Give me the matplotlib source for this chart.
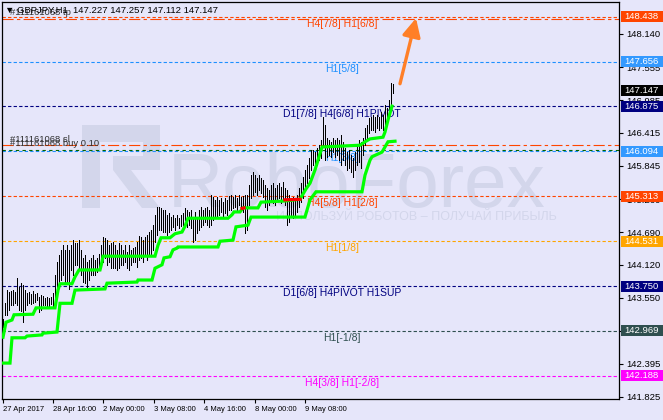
import numpy as np
import matplotlib
matplotlib.use("Agg")
import matplotlib.pyplot as plt
from matplotlib import transforms
from matplotlib.patches import Rectangle, Polygon

# ---- data (GBPJPY H1) ----
highs = [
    143.18, 143.45, 143.68, 143.65, 143.66, 143.68, 143.65, 143.89, 143.73, 143.80,
    143.77, 143.68, 143.63, 143.65, 143.61, 143.66, 143.61, 143.63, 143.56, 143.59,
    143.58, 143.54, 143.56, 143.54, 143.56, 143.63, 143.94, 144.17, 144.29, 144.38,
    144.46, 144.38, 144.46, 144.38, 144.46, 144.55, 144.50, 144.50, 144.55, 144.38,
    144.24, 144.29, 144.17, 144.20, 144.24, 144.29, 144.20, 144.24, 144.31, 144.46,
    144.60, 144.59, 144.55, 144.46, 144.50, 144.52, 144.46, 144.38, 144.50, 144.46,
    144.38, 144.46, 144.34, 144.46, 144.38, 144.41, 144.43, 144.52, 144.62, 144.60,
    144.55, 144.60, 144.64, 144.69, 144.73, 144.81, 144.99, 145.13, 145.13, 145.11,
    145.07, 145.07, 144.99, 145.02, 144.95, 144.99, 144.93, 144.99, 144.93, 144.99,
    145.02, 145.11, 145.07, 145.04, 145.07, 144.93, 145.04, 144.93, 145.07, 145.13,
    145.07, 145.11, 145.13, 145.07, 145.33, 145.30, 145.25, 145.30, 145.25, 145.28,
    145.21, 145.28, 145.25, 145.32, 145.33, 145.30, 145.33, 145.28, 145.33, 145.30,
    145.32, 145.33, 145.33, 145.51, 145.68, 145.73, 145.68, 145.63, 145.68, 145.63,
    145.59, 145.51, 145.46, 145.42, 145.51, 145.54, 145.46, 145.51, 145.54, 145.47,
    145.56, 145.46, 145.42, 145.33, 145.28, 145.30, 145.25, 145.33, 145.46, 145.54,
    145.65, 145.77, 145.86, 145.98, 146.12, 146.12, 146.08, 146.15, 146.20, 146.29,
    146.69, 146.55, 146.33, 146.29, 146.26, 146.33, 146.29, 146.33, 146.29, 146.38,
    146.26, 146.15, 146.08, 146.12, 146.03, 145.98, 146.08, 146.20, 146.29, 146.26,
    146.33, 146.50, 146.55, 146.67, 146.69, 146.73, 146.69, 146.73, 146.69, 146.78,
    146.73, 146.90, 146.85, 146.99, 147.28, 147.257]
lows = [
    143.04, 143.24, 143.24, 143.33, 143.42, 143.42, 143.45, 143.42, 143.33, 143.32,
    143.13, 143.33, 143.42, 143.45, 143.44, 143.45, 143.47, 143.51, 143.30, 143.33,
    143.42, 143.42, 143.40, 143.40, 143.44, 143.40, 143.51, 143.59, 143.77, 143.86,
    143.94, 143.82, 143.80, 143.70, 144.03, 143.94, 144.12, 144.12, 144.06, 143.94,
    143.82, 143.80, 143.73, 143.86, 143.94, 143.94, 143.94, 143.99, 144.06, 144.12,
    144.17, 144.24, 144.12, 144.17, 144.06, 144.06, 144.06, 144.03, 144.06, 144.12,
    144.12, 144.17, 144.06, 144.03, 144.12, 144.17, 144.17, 144.08, 144.20, 144.24,
    144.17, 144.29, 144.20, 144.29, 144.29, 144.38, 144.52, 144.64, 144.73, 144.73,
    144.69, 144.69, 144.64, 144.69, 144.73, 144.78, 144.73, 144.81, 144.76, 144.79,
    144.81, 144.90, 144.78, 144.81, 144.76, 144.52, 144.55, 144.67, 144.73, 144.78,
    144.81, 144.86, 144.81, 144.78, 144.81, 144.90, 144.93, 144.95, 144.99, 145.04,
    144.95, 145.02, 144.99, 145.07, 145.07, 145.11, 145.13, 145.04, 145.16, 145.07,
    145.04, 144.67, 144.73, 145.16, 145.28, 145.33, 145.39, 145.33, 145.42, 145.37,
    145.30, 145.13, 145.07, 145.16, 145.25, 145.20, 145.16, 145.25, 145.28, 145.20,
    145.25, 145.16, 144.81, 144.86, 144.99, 144.93, 144.99, 145.04, 145.13, 145.21,
    145.28, 145.42, 145.54, 145.63, 145.77, 145.86, 145.82, 145.86, 145.94, 145.98,
    146.20, 145.94, 146.00, 146.03, 146.00, 146.08, 146.00, 146.03, 145.94, 145.86,
    145.94, 145.86, 145.77, 145.80, 145.73, 145.65, 145.77, 145.86, 145.91, 145.80,
    146.03, 146.20, 146.29, 146.41, 146.46, 146.46, 146.43, 146.50, 146.46, 146.50,
    146.46, 146.55, 146.60, 146.67, 146.85, 147.112]

# trailing lines (bar index, price)
upper_x = [0, 1.5, 4.5, 5.5, 15, 16.5, 26, 27.5, 28.5, 34.5, 36, 38, 48.5, 49.5, 50, 76,
           77.5, 79, 83.5, 86, 89.5, 91, 92.5, 112.5, 114.5, 115.5, 118.5, 120, 127.5,
           129, 141, 148.5, 150, 151.5, 153.5, 156, 157.5, 159.5, 178.5, 181, 183.5,
           190, 191, 192.5, 193.5, 194.5]
upper_y = [142.86, 143.12, 143.16, 143.25, 143.26, 143.37, 143.37, 143.68, 143.79, 143.79,
           143.91, 144.03, 144.03, 144.17, 144.27, 144.27, 144.46, 144.59, 144.59, 144.66,
           144.69, 144.79, 144.93, 144.93, 144.99, 145.04, 145.04, 145.11, 145.11, 145.21,
           145.23, 145.26, 145.35, 145.44, 145.54, 145.77, 145.94, 146.17, 146.20, 146.26,
           146.31, 146.34, 146.43, 146.64, 146.76, 146.88]
upper_red_x = [141, 148.5]
upper_red_y = [145.25, 145.26]
lower_x = [0, 3.5, 4.5, 11, 12, 19.5, 20, 27, 28.5, 34.5, 36, 51, 52, 67, 67.5, 74.5, 76,
           79.5, 80.5, 83.5, 85, 87, 87.5, 107.5, 108.5, 115, 116.5, 122.5, 124, 151,
           153.5, 156.5, 179.5, 181, 183.5, 184.5, 189.5, 192.5, 196]
lower_y = [142.41, 142.41, 142.85, 142.85, 142.88, 142.90, 142.93, 142.95, 143.45, 143.45,
           143.68, 143.70, 143.80, 143.82, 143.855, 143.855, 144.06, 144.12, 144.24, 144.26,
           144.38, 144.41, 144.43, 144.43, 144.53, 144.55, 144.78, 144.81, 144.95, 144.95,
           145.25, 145.39, 145.39, 145.68, 145.94, 146.00, 146.08, 146.26, 146.27]

levels = [148.438, 147.656, 146.875, 146.094, 145.313, 144.531, 143.750, 142.969, 142.188]
level_names = ["H4[7/8] H1[6/8]", "H1[5/8]", "D1[7/8] H4[6/8] H1PIVOT", "H1[3/8]",
               "H4[5/8] H1[2/8]", "H1[1/8]", "D1[6/8] H4PIVOT H1SUP", "H1[-1/8]",
               "H4[3/8] H1[-2/8]"]
level_colors = ["#FF4500", "#1E90FF", "#000080", "#1E90FF", "#FF4500", "#FFA500",
                "#000080", "#2F4F4F", "#FF00FF"]
box_colors = ["#FF4500", "#3399FF", "#000080", "#3399FF", "#FF4500", "#FFA500",
              "#000080", "#2F4F4F", "#FF00FF"]

tp_price, sl_price, buy_price = 148.40, 146.20, 146.12
last_price = 147.147
arrow_from = (198.5, 147.27)
arrow_to = (206.5, 148.41)

yticks = [141.825, 142.395, 142.965, 143.550, 144.120, 144.690, 145.260, 145.845,
          146.415, 146.985, 147.555, 148.140]
xtick_pos = [0, 25, 50, 75.5, 100.5, 126, 151]
xtick_labels = ["27 Apr 2017", "28 Apr 16:00", "2 May 00:00", "3 May 08:00",
                "4 May 16:00", "8 May 00:00", "9 May 08:00"]

REG = ["Liberation Sans", "DejaVu Sans"]
BG = "#E6E6FA"
WM = "#D3D6EB"

fig = plt.figure(figsize=(6.63, 4.2), dpi=100, facecolor=BG)
ax = fig.add_axes([2 / 663, 21 / 420, 617 / 663, 397 / 420], facecolor=BG)
ax.set_xlim(-0.5, 308)
ax.set_ylim(141.785, 148.692)

def fpx(x, y):
    return (x / 663, 1 - y / 420)

# watermark logo + text
wm_rects = [(82, 125, 18, 83), (82, 125, 78, 17), (143, 125, 17, 45), (113, 156, 47, 14)]
for x0, y0, w, h in wm_rects:
    fx, fy = fpx(x0, y0 + h)
    ax.add_patch(Rectangle((fx, fy), w / 663, h / 420, transform=fig.transFigure,
                           color=WM, zorder=0, lw=0))
ax.add_patch(Polygon([fpx(113, 170), fpx(131, 170), fpx(160, 208), fpx(142, 208)],
                     closed=True, transform=fig.transFigure, color=WM, zorder=0, lw=0))
ax.text(*fpx(168, 207), "RoboForex", transform=fig.transFigure, fontsize=55,
        family=REG, color=WM, ha="left", va="baseline", zorder=0)
ax.text(*fpx(557, 217), "ИСПОЛЬЗУЙ РОБОТОВ – ПОЛУЧАЙ ПРИБЫЛЬ", transform=fig.transFigure,
        fontsize=9, family=REG, color=WM, ha="right", va="center", zorder=0)

# level lines + labels
for p, name, c in zip(levels, level_names, level_colors):
    ax.axhline(p, color=c, lw=0.8, ls=(0, (3, 2)), zorder=1)
    ax.annotate(name, (169.5, p), xytext=(0, -1.5), textcoords="offset points",
                ha="center", va="top", fontsize=7.5, family=REG, color=c, zorder=1)

# order lines
ax.axhline(tp_price, color="#FF4500", lw=0.8, ls=(0, (10, 3, 3, 3)), zorder=1)
ax.axhline(sl_price, color="#FF4500", lw=0.8, ls=(0, (10, 3, 3, 3)), zorder=1)
ax.axhline(buy_price, color="#006400", lw=0.8, ls=(0, (3, 3)), zorder=1)
ax.annotate("#111161068 tp", (3.5, tp_price), xytext=(0, 1), textcoords="offset points",
            fontsize=6.8, family=REG, color="#303030", va="bottom", zorder=2)
ax.annotate("#111161068 sl", (3.5, sl_price), xytext=(0, 1), textcoords="offset points",
            fontsize=6.8, family=REG, color="#303030", va="bottom", zorder=2)
ax.annotate("#111161068 buy 0.10", (3.5, buy_price), xytext=(0, 1), textcoords="offset points",
            fontsize=6.8, family=REG, color="#303030", va="bottom", zorder=2)

# bars
idx = np.arange(len(highs))
ax.vlines(idx, lows, highs, color="black", lw=0.72, zorder=3, antialiased=False)

# trailing lines
ax.plot(lower_x, lower_y, color="#00FF00", lw=2.3, zorder=4, solid_joinstyle="miter")
ax.plot(upper_x, upper_y, color="#00FF00", lw=2.3, zorder=4, solid_joinstyle="miter")
ax.plot(upper_red_x, upper_red_y, color="#FF0000", lw=2.3, zorder=5)
ax.plot([119.5, 120.5], [145.10, 145.11], color="#FF0000", lw=2.3, zorder=5)

# arrow
ax.annotate("", xy=arrow_to, xytext=arrow_from,
            arrowprops=dict(arrowstyle="-|>,head_length=1.1,head_width=0.55",
                            color="#FF7F27", lw=2.4, shrinkA=0, shrinkB=0), zorder=6)

# title
ax.text(3 / 617, 1 - 8 / 397, "▼ GBPJPY,H1  147.227 147.257 147.112 147.147",
        transform=ax.transAxes, fontsize=6.8, family=REG, color="black", va="center", zorder=6)

# axes
for s in ax.spines.values():
    s.set_color("black")
    s.set_linewidth(0.9)
ax.yaxis.tick_right()
ax.set_yticks(yticks)
ax.set_yticklabels([f"{v:.3f}" for v in yticks], family=REG, fontsize=6.8)
ax.tick_params(axis="y", length=3, pad=2, colors="black", width=0.8)
ax.set_xticks(xtick_pos)
ax.set_xticklabels(xtick_labels, family=REG, fontsize=5.5, ha="left")
ax.tick_params(axis="x", length=3, pad=2, colors="black", width=0.8)

# price boxes on the right
tr = transforms.blended_transform_factory(ax.transAxes, ax.transData)
boxes = list(zip(levels, box_colors)) + [(last_price, "#000000")]
for p, c in boxes:
    ax.add_patch(Rectangle((1.003, p - 0.096), 0.075, 0.192, transform=tr, color=c,
                           clip_on=False, zorder=7, lw=0))
    ax.text(1.009, p, f"{p:.3f}", transform=tr, color="white", fontsize=6.8, family=REG,
            va="center", ha="left", zorder=8, clip_on=False)

fig.savefig("out.png", dpi=100, facecolor=BG)
